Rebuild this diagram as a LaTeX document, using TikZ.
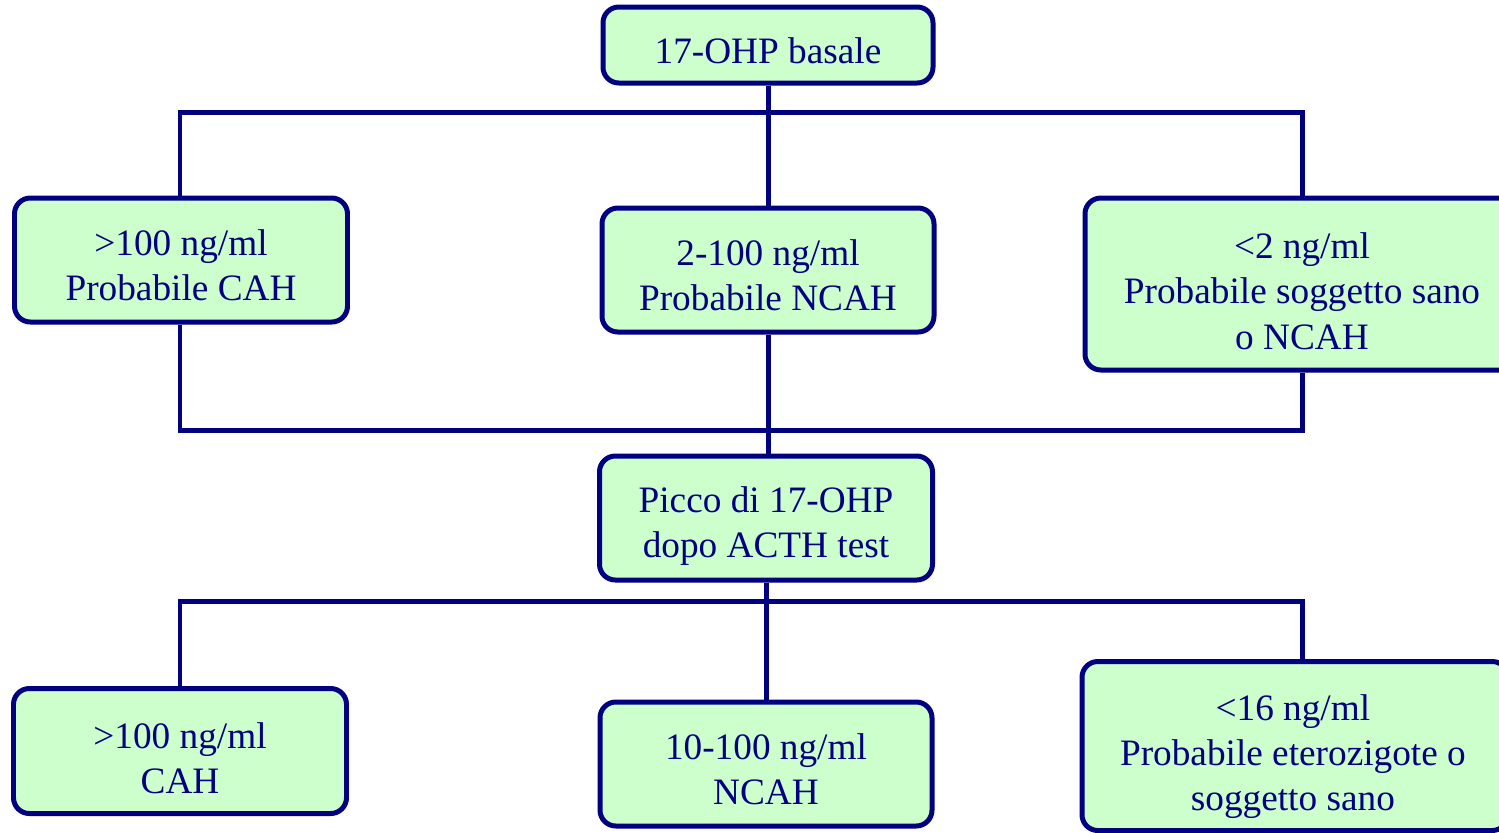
\documentclass[tikz,border=0pt]{standalone}
\usepackage{fontspec}
\setmainfont{Liberation Serif}
\definecolor{navyline}{HTML}{000080}
\definecolor{mint}{HTML}{CCFFCC}
\begin{document}
\begin{tikzpicture}[x=0.01cm,y=-0.01cm,
  box/.style={draw=navyline, fill=mint, line width=1.42pt, rounded corners=4.5pt,
    inner sep=0pt},
  txt/.style={align=center, text=navyline, inner sep=0pt,
    font=\fontsize{10.6}{12.9}\selectfont},
  wire/.style={draw=navyline, line width=1.42pt}]
\useasboundingbox (0,0) rectangle (1499,832);
\begin{scope}
\clip (0,0) rectangle (1499,832);
% first level: basal 17-OHP
\node[box, minimum width=330*0.01cm, minimum height=76*0.01cm] (top) at (768,45) {};
\node[box, minimum width=333*0.01cm, minimum height=124*0.01cm] (l1) at (181,260) {};
\node[box, minimum width=332*0.01cm, minimum height=124*0.01cm] (m1) at (768,270) {};
\node[box, minimum width=434*0.01cm, minimum height=172*0.01cm] (r1) at (1302,284) {};
% second level: ACTH stimulation
\node[box, minimum width=333*0.01cm, minimum height=124*0.01cm] (acth) at (766,518) {};
\node[box, minimum width=333*0.01cm, minimum height=125*0.01cm] (l2) at (180,751) {};
\node[box, minimum width=332*0.01cm, minimum height=124*0.01cm] (m2) at (766,764) {};
\node[box, minimum width=426*0.01cm, minimum height=169*0.01cm] (r2) at (1295,746) {};
\end{scope}
% box texts
\node[txt] (topt)  at ([yshift=-1.5pt]top.center)  {17-OHP basale};
\node[txt] (l1t)   at ([yshift=-1.5pt]l1.center)   {>100 ng/ml\\Probabile CAH};
\node[txt] (m1t)   at ([yshift=-1.5pt]m1.center)   {2-100 ng/ml\\Probabile NCAH};
\node[txt] (r1t)   at ([yshift=-2pt]r1.center)     {<2 ng/ml\\Probabile soggetto sano\\o NCAH};
\node[txt] (actht) at ([yshift=-2.2pt]acth.center) {Picco di 17-OHP\\dopo ACTH test};
\node[txt] (l2t)   at ([yshift=-2pt]l2.center)     {>100 ng/ml\\CAH};
\node[txt] (m2t)   at ([yshift=-1.5pt]m2.center)   {10-100 ng/ml\\NCAH};
\node[txt] (r2t)   at ([xshift=-0.6pt,yshift=-3pt]r2.center) {<16 ng/ml\\Probabile eterozigote o\\soggetto sano};
% bus lines
\coordinate (bus1) at (768,112);
\coordinate (bus2) at (768,430);
\coordinate (bus3) at (768,601);
\coordinate (lx) at (180,0);
\coordinate (rx) at (1302,0);
\draw[wire] (top.south) -- (m1.north);
\draw[wire] (lx |- l1.north) -- (lx |- bus1) -- (rx |- bus1) -- (rx |- r1.north);
\draw[wire] (lx |- l1.south) -- (lx |- bus2) -- (rx |- bus2) -- (rx |- r1.south);
\draw[wire] (m1.south) -- (m1.south |- acth.north);
\draw[wire] (acth.south) -- (m2.north);
\draw[wire] (lx |- l2.north) -- (lx |- bus3) -- (rx |- bus3) -- (rx |- r2.north);
\end{tikzpicture}
\end{document}
